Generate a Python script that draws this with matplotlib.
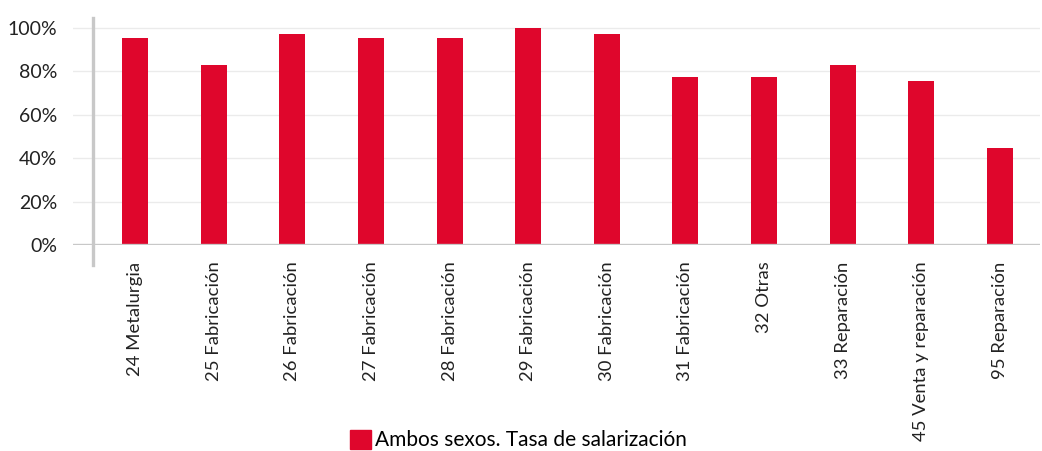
import numpy as np
import matplotlib.pyplot as plt
from matplotlib.patches import Patch

plt.rcParams['font.family'] = ['Lato', 'DejaVu Sans']

categories = ['24 Metalurgia', '25 Fabricación', '26 Fabricación', '27 Fabricación',
              '28 Fabricación', '29 Fabricación', '30 Fabricación', '31 Fabricación',
              '32 Otras', '33 Reparación', '45 Venta y reparación', '95 Reparación']
tasa = [95.4, 82.9, 97.2, 95.4, 95.4, 100.0, 97.2, 77.4, 77.4, 82.9, 75.6, 44.7]
series_name = 'Ambos sexos. Tasa de salarización'
yticks = [0, 20, 40, 60, 80, 100]

red = '#DF062C'
gray = '#C8C8C8'

fig = plt.figure(figsize=(10.42, 4.51), dpi=100)
ax = fig.add_axes([73 / 1042, 206 / 451, 967 / 1042, 227.8 / 451])

x = np.arange(len(categories))
ax.bar(x, tasa, width=0.33, color=red, zorder=3)

ax.set_xlim(-0.79, 11.51)
ax.set_ylim(0, 105)
ax.set_yticks(yticks)
ax.set_yticklabels([f'{v}%' for v in yticks], fontsize=14, color='#222222')
ax.tick_params(axis='y', length=0, pad=11.5)
ax.tick_params(axis='x', length=0, pad=12)
ax.set_xticks(x)
ax.set_xticklabels(categories, rotation=90, fontsize=13.3, color='#222222', va='top')

for s in ax.spines.values():
    s.set_visible(False)
ax.grid(axis='y', color='#EBEBEB', linewidth=1, zorder=0)
ax.axhline(0, color=gray, linewidth=2.4, zorder=4)
# vertical axis line extending past the zero line
ax.plot([-0.535, -0.535], [-9.2, 104.6], color=gray, linewidth=2.4, clip_on=False, zorder=4)

fig.legend(handles=[Patch(color=red, label=series_name)], loc='center',
           bbox_to_anchor=(0.498, 0.024), frameon=False, fontsize=15,
           handlelength=1.0, handleheight=1.0, handletextpad=0.2)

fig.savefig('out.png', dpi=100)
